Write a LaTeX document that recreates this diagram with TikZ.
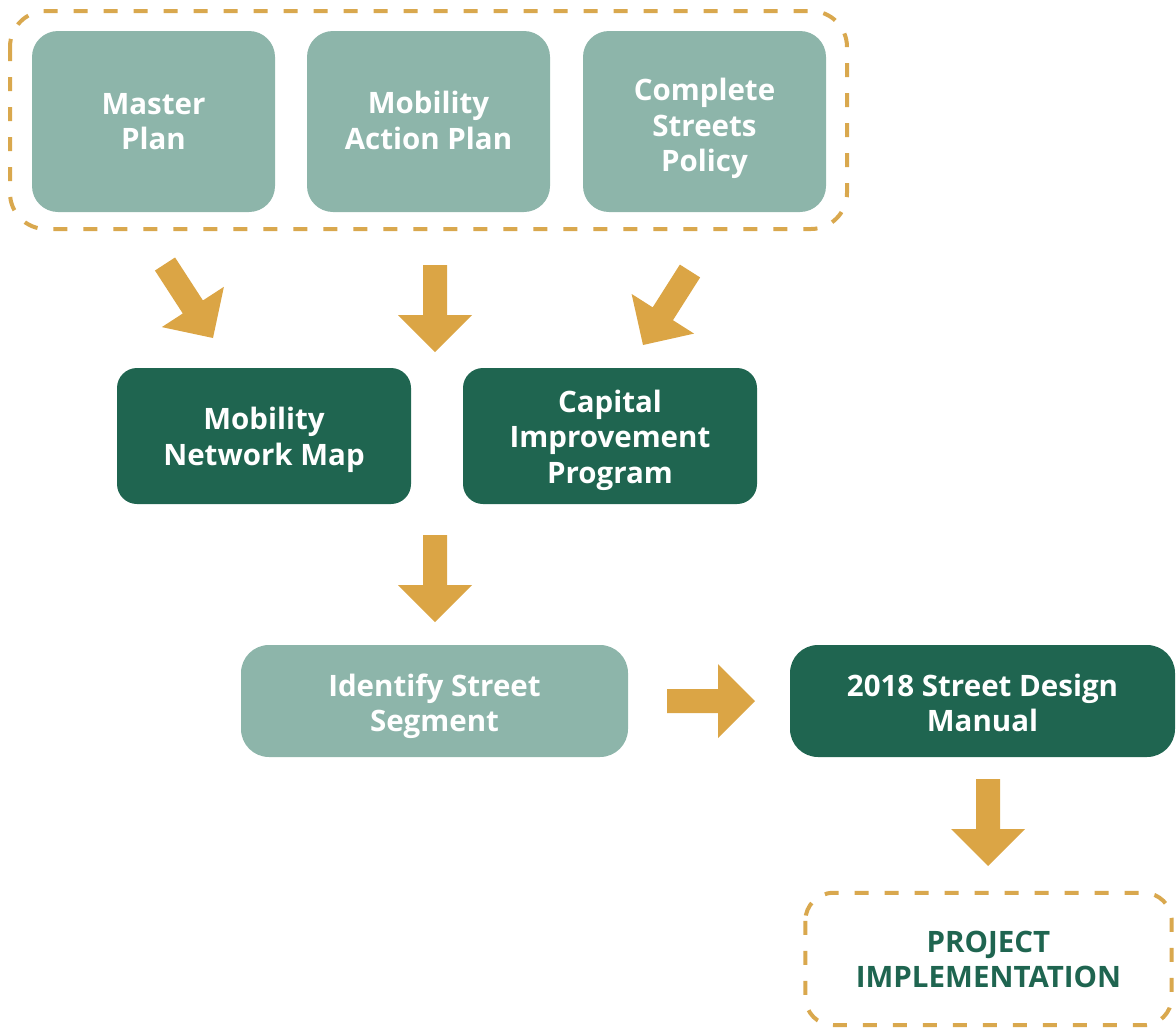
\documentclass[tikz,border=0pt]{standalone}
\usepackage{fontspec}
\setmainfont{Open Sans}
\usetikzlibrary{calc}
\definecolor{lightteal}{HTML}{8DB5AA}
\definecolor{darkgreen}{HTML}{1F6550}
\definecolor{gold}{HTML}{DBA545}
\definecolor{dashgold}{HTML}{D9A84E}
\tikzset{
  boxtext/.style={font=\fontsize{29.5}{35.5}\selectfont\bfseries, align=center, inner sep=0pt},
  lightbox/.style={fill=lightteal, rounded corners=26pt, inner sep=0pt},
  darkbox/.style={fill=darkgreen, rounded corners=20pt, inner sep=0pt},
  wtext/.style={boxtext, text=white},
  gtext/.style={boxtext, text=darkgreen},
  dashbox/.style={draw=dashgold, line width=4pt, dash pattern=on 14pt off 16pt, rounded corners=36pt},
  arrowfill/.style={fill=gold}
}
\newcommand\blockarr[2]{%
  \coordinate (hb) at ($(#2)!37pt!(#1)$);
  \fill[arrowfill] ($(#1)!12pt!90:(#2)$) -- ($(hb)!12pt!-90:(#1)$) -- ($(hb)!37pt!-90:(#1)$) -- (#2)
    -- ($(hb)!37pt!90:(#1)$) -- ($(hb)!12pt!90:(#1)$) -- ($(#1)!12pt!-90:(#2)$) -- cycle;}
\begin{document}
\begin{tikzpicture}[x=1pt,y=-1pt]
\useasboundingbox (0,0) rectangle (1176,1028);
% top row
\node[lightbox, minimum width=243pt, minimum height=181pt] (mp) at (153.5,121.5) {};
\node[wtext] (mpt) at ($(mp)+(0,0)$) {Master\\Plan};
\node[lightbox, minimum width=243pt, minimum height=181pt] (map) at (428.5,121.5) {};
\node[wtext] (mapt) at ($(map)+(0,-1)$) {Mobility\\Action Plan};
\node[lightbox, minimum width=243pt, minimum height=181pt] (csp) at (704.5,121.5) {};
\node[wtext] (cspt) at ($(csp)+(0,7)$) {Complete\\Streets\\Policy};
\draw[dashbox] (10,11) rectangle (847,229);
% middle row
\node[darkbox, minimum width=294pt, minimum height=136pt] (mnm) at (264,436) {};
\node[wtext] (mnmt) at ($(mnm)+(0,4)$) {Mobility\\Network Map};
\node[darkbox, minimum width=294pt, minimum height=136pt] (cip) at (610,436) {};
\node[wtext] (cipt) at ($(cip)+(0,4)$) {Capital\\Improvement\\Program};
% lower row
\node[lightbox, rounded corners=28pt, minimum width=387pt, minimum height=112pt] (iss) at (434.5,701) {};
\node[wtext] (isst) at ($(iss)+(0,5)$) {Identify Street\\Segment};
\node[darkbox, rounded corners=28pt, minimum width=385pt, minimum height=112pt] (sdm) at (982.5,701) {};
\node[wtext] (sdmt) at ($(sdm)+(0,2)$) {2018 Street Design\\Manual};
% final
\node[minimum width=366pt, minimum height=132pt, inner sep=0pt] (pi) at (988.5,959) {};
\draw[dashbox, rounded corners=28pt] (pi.north west) rectangle (pi.south east);
\node[gtext] (pit) at ($(pi)+(0,0.5)$) {PROJECT\\IMPLEMENTATION};
% arrow coordinates
\coordinate (a1s) at (165,264); \coordinate (a1e) at (213,338);
\coordinate (a2s) at (435,265); \coordinate (a2e) at (435,352);
\coordinate (a3s) at (690,271); \coordinate (a3e) at (643,345);
\coordinate (a4s) at (435,535); \coordinate (a4e) at (435,622);
\coordinate (a5s) at (667,701); \coordinate (a5e) at (755,701);
\coordinate (a6s) at (988,779); \coordinate (a6e) at (988,866);
\blockarr{a1s}{a1e}
\blockarr{a2s}{a2e}
\blockarr{a3s}{a3e}
\blockarr{a4s}{a4e}
\blockarr{a5s}{a5e}
\blockarr{a6s}{a6e}
\end{tikzpicture}
\end{document}
